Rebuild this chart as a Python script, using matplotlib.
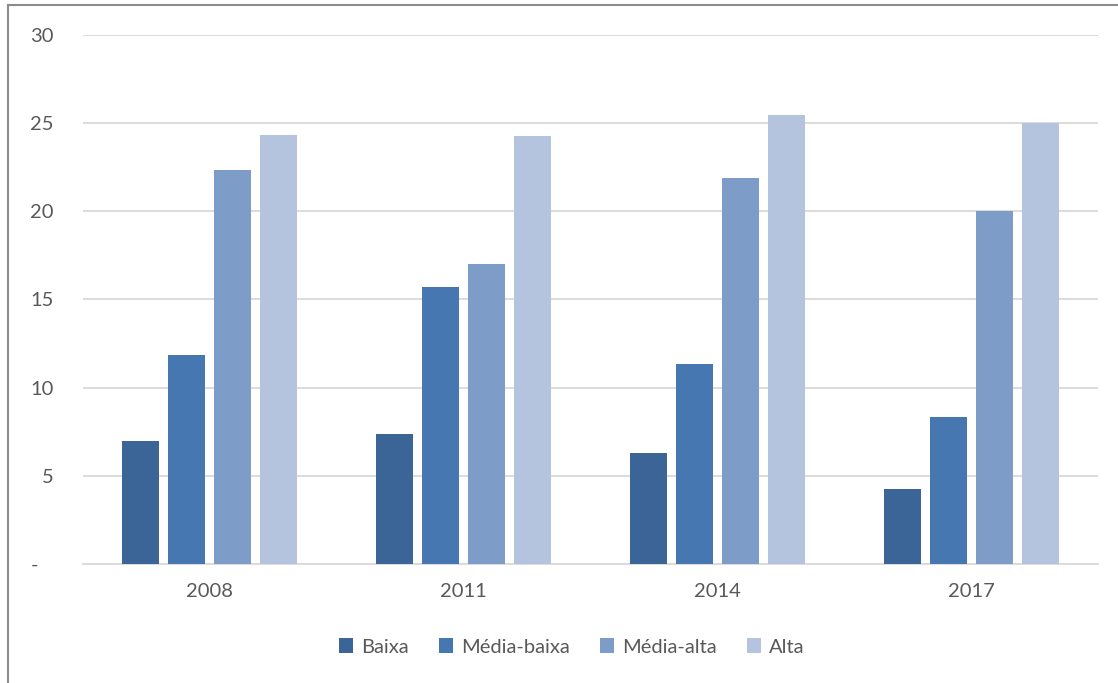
import numpy as np
import matplotlib.pyplot as plt
from matplotlib.lines import Line2D

years = ['2008', '2011', '2014', '2017']
series = ['Baixa', 'Média-baixa', 'Média-alta', 'Alta']
baixa = [7.0, 7.35, 6.3, 4.25]
media_baixa = [11.85, 15.7, 11.35, 8.35]
media_alta = [22.35, 17.0, 21.9, 20.0]
alta = [24.35, 24.25, 25.45, 25.0]
colors = ['#3B6597', '#4777B0', '#7E9CC8', '#B4C4DF']

plt.rcParams['font.family'] = ['Lato', 'DejaVu Sans']

fig = plt.figure(figsize=(11.18, 6.83), dpi=100)
ax = fig.add_axes([0.0742, 0.1742, 0.908, 0.7746])

x = np.arange(len(years))
width = 0.146
step = 0.181
values = [baixa, media_baixa, media_alta, alta]
for i, (name, vals) in enumerate(zip(series, values)):
    ax.bar(x + (i - 1.5) * step, vals, width, color=colors[i], label=name, zorder=3)

ax.set_xlim(-0.5, 3.5)
ax.set_ylim(0, 30)
ax.set_yticks(range(0, 31, 5))
ax.set_yticklabels(['-   ', '5', '10', '15', '20', '25', '30'])
ax.set_xticks(x)
ax.set_xticklabels(years)
ax.tick_params(axis='both', length=0, labelsize=14.5, labelcolor='#595959')
ax.tick_params(axis='y', pad=21)
ax.tick_params(axis='x', pad=14)
ax.grid(axis='y', color='#D9D9D9', linewidth=1.3, zorder=0)
for s in ['top', 'right', 'left']:
    ax.spines[s].set_visible(False)
ax.spines['bottom'].set_color('#D9D9D9')
ax.spines['bottom'].set_linewidth(1.3)

fig.legend(loc='center', bbox_to_anchor=(572 / 1118, 1 - 647 / 683), ncol=4,
           frameon=False, fontsize=14.5, labelcolor='#595959',
           handlelength=0.7, handleheight=0.7, handletextpad=0.4, columnspacing=1.5)

# chart-area border (top and left edges)
fig.add_artist(Line2D([8 / 1118, 8 / 1118], [0, 1 - 5 / 683], color='#8C8C8C', linewidth=1.5))
fig.add_artist(Line2D([8 / 1118, 1], [1 - 5 / 683, 1 - 5 / 683], color='#8C8C8C', linewidth=1.5))

fig.savefig('out.png', dpi=100)
